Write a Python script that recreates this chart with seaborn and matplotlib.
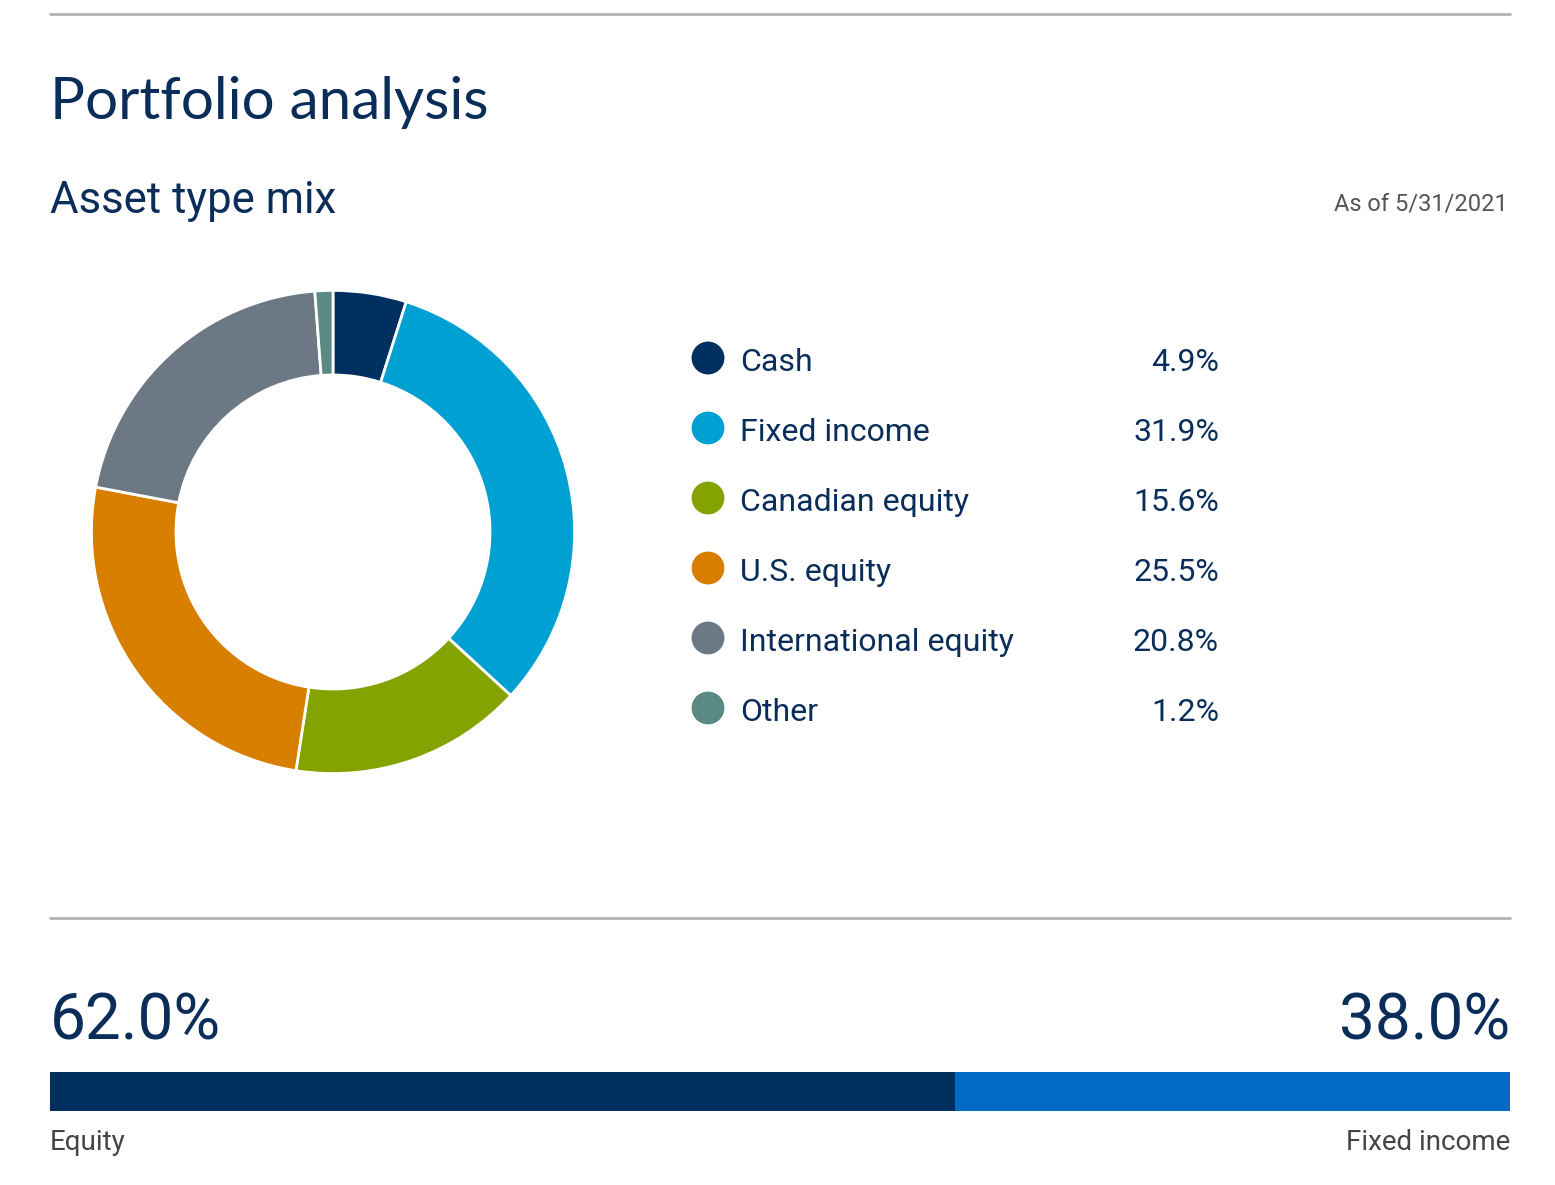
import matplotlib
matplotlib.use('Agg')
import matplotlib.pyplot as plt
import seaborn as sns
import pandas as pd

# Data
categories = ['Cash', 'Fixed income', 'Canadian equity', 'U.S. equity', 'International equity', 'Other']
shares = [4.9, 31.9, 15.6, 25.5, 20.8, 1.2]
colors = ['#00305f', '#00a0d3', '#84a300', '#d97f00', '#6c7884', '#5b8a85']
split_labels = ['Equity', 'Fixed income']
split_values = [62.0, 38.0]
split_colors = ['#00305f', '#006ac6']
as_of = 'As of 5/31/2021'

sns.set_theme(style='white')
plt.rcParams['font.family'] = ['Roboto', 'DejaVu Sans']

NAVY = '#0a2d5a'
W, H = 1555, 1185
fig = plt.figure(figsize=(W / 100, H / 100), dpi=100)


def frac(x0, y0, x1, y1):
    # pixel box (top-left origin) -> figure fraction rect
    return [x0 / W, (H - y1) / H, (x1 - x0) / W, (y1 - y0) / H]


# Background axes in pixel coordinates
bg = fig.add_axes([0, 0, 1, 1])
bg.set_xlim(0, W)
bg.set_ylim(H, 0)
bg.axis('off')

bg.plot([50, 1510], [14, 14], color='#b3b3b3', lw=2)
bg.plot([50, 1510], [918, 918], color='#b3b3b3', lw=2)

bg.text(50, 119, 'Portfolio analysis', fontsize=42, color=NAVY, family=['Lato', 'DejaVu Sans'])
bg.text(50, 213, 'Asset type mix', fontsize=31.5, color=NAVY)
bg.text(1508, 210, as_of, fontsize=17, color='#555555', ha='right')

# Donut
ax_pie = fig.add_axes(frac(89, 288, 577, 776))
ax_pie.pie(shares, colors=colors, startangle=90, counterclock=False,
           wedgeprops=dict(width=0.35, edgecolor='white', linewidth=2))
ax_pie.set_xlim(-1.01, 1.01)
ax_pie.set_ylim(-1.01, 1.01)
ax_pie.axis('off')

# Legend
legend = pd.DataFrame({'name': categories, 'share': shares, 'color': colors})
legend['y'] = 358 + 70 * legend.index
legend['x'] = 708
sns.scatterplot(data=legend, x='x', y='y', hue='name', palette=colors, s=560,
                edgecolor='none', legend=False, ax=bg)
for _, row in legend.iterrows():
    bg.text(740, row['y'] + 13, row['name'], fontsize=23, color=NAVY)
    bg.text(1219, row['y'] + 13, f"{row['share']:.1f}%", fontsize=23, color=NAVY, ha='right')
bg.set_xlim(0, W)
bg.set_ylim(H, 0)
bg.set_xlabel('')
bg.set_ylabel('')

# Split bar
ax_bar = fig.add_axes(frac(50, 1072, 1510, 1111))
bar_df = pd.DataFrame({'row': [0, 0], 'value': [sum(split_values), split_values[0]],
                       'part': ['total', 'equity']})
sns.barplot(data=bar_df[bar_df.part == 'total'], x='value', y='row', orient='h',
            color=split_colors[1], width=1, saturation=1, ax=ax_bar)
sns.barplot(data=bar_df[bar_df.part == 'equity'], x='value', y='row', orient='h',
            color=split_colors[0], width=1, saturation=1, ax=ax_bar)
for p in ax_bar.patches:
    p.set_linewidth(0)
ax_bar.set_xlim(0, 100)
ax_bar.set_ylim(0.5, -0.5)
ax_bar.axis('off')

bg.text(50, 1040, f'{split_values[0]:.1f}%', fontsize=46, color=NAVY)
bg.text(1510, 1040, f'{split_values[1]:.1f}%', fontsize=46, color=NAVY, ha='right')
bg.text(50, 1150, split_labels[0], fontsize=20, color='#454545')
bg.text(1510, 1150, split_labels[1], fontsize=20, color='#454545', ha='right')

fig.savefig('out.png', dpi=100)
